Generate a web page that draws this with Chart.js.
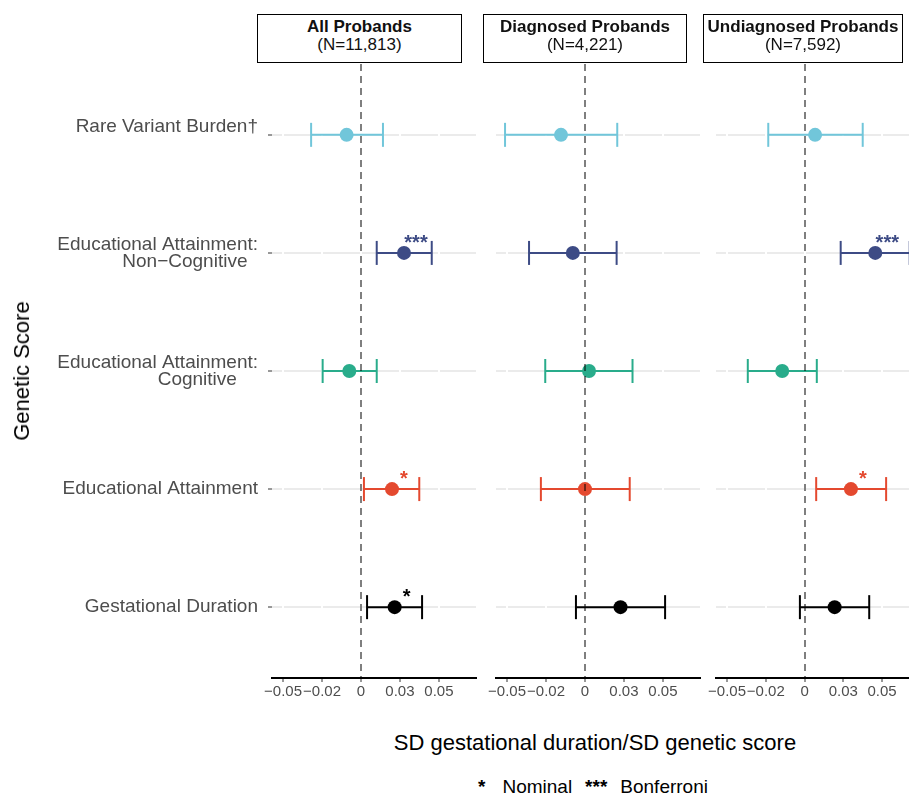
<!DOCTYPE html>
<html>
<head>
<meta charset="utf-8">
<script src="https://cdn.jsdelivr.net/npm/chart.js@4.4.0/dist/chart.umd.min.js"></script>
<style>
  html, body { margin: 0; padding: 0; background: #fff; overflow: hidden; }
  body { width: 909px; height: 795px; position: relative; font-family: "Liberation Sans", Arial, sans-serif; }
  canvas { position: absolute; top: 0; }
  .strip { position: absolute; top: 14px; height: 49px; box-sizing: border-box; border: 1.5px solid #000; background: #fff;
           text-align: center; font-size: 17px; line-height: 18px; padding-top: 3px; color: #111; white-space: nowrap; }
  .strip b { display: block; }
  .ytitle { position: absolute; left: 22px; top: 371px; transform: translate(-50%, -50%) rotate(-90deg); font-size: 22px; white-space: nowrap; }
  .xtitle { position: absolute; left: 595px; top: 743px; transform: translate(-50%, -50%); font-size: 22px; white-space: nowrap; }
  .legend { position: absolute; left: 478px; top: 787px; transform: translateY(-50%); font-size: 19px; white-space: nowrap; }
  .legend .g { margin-left: 13px; }
  .legend .k { margin-left: 17px; }
</style>
</head>
<body>
<canvas id="pAll" width="480" height="720" style="left:0px"></canvas>
<canvas id="pDiag" width="224" height="720" style="left:480px"></canvas>
<canvas id="pUndiag" width="225" height="720" style="left:700px"></canvas>

<div class="strip" style="left:257px;width:205px"><b id="t0"></b><span id="n0"></span></div>
<div class="strip" style="left:483px;width:204px"><b id="t1"></b><span id="n1"></span></div>
<div class="strip" style="left:703px;width:200px"><b id="t2"></b><span id="n2"></span></div>

<div class="ytitle">Genetic Score</div>
<div class="xtitle">SD gestational duration/SD genetic score</div>
<div class="legend"><b>*</b><span class="k">Nominal</span><b class="g">***</b><span class="g">Bonferroni</span></div>

<script>
// rows, top to bottom
const categories = [
  ['Rare Variant Burden\u2020', ''],
  ['Educational Attainment:', 'Non\u2212Cognitive\u00a0\u00a0'],
  ['Educational Attainment:', 'Cognitive\u00a0\u00a0\u00a0\u00a0'],
  'Educational Attainment',
  'Gestational Duration'
];
const rowColors = ['#71C6DA', '#3D4B85', '#29AC8B', '#E4492F', '#000000'];

const panelTitles = ['All Probands', 'Diagnosed Probands', 'Undiagnosed Probands'];
const panelN = ['(N=11,813)', '(N=4,221)', '(N=7,592)'];

const xTickValues = [-0.05, -0.025, 0, 0.025, 0.05];
const xTickLabels = ['\u22120.05', '\u22120.02', '0', '0.03', '0.05'];

// estimates and 95% CI
const allEst = [-0.0092, 0.0276, -0.0075, 0.0199, 0.0216];
const allLo  = [-0.0320, 0.0101, -0.0246, 0.0019, 0.0039];
const allHi  = [ 0.0141, 0.0454,  0.0101, 0.0374, 0.0392];
const allSig = ['', '***', '', '*', '*'];

const diagEst = [-0.0154, -0.0078, 0.0026, 0.0000, 0.0228];
const diagLo  = [-0.0513, -0.0359, -0.0255, -0.0283, -0.0058];
const diagHi  = [ 0.0207,  0.0203,  0.0305,  0.0287,  0.0514];
const diagSig = ['', '', '', '', ''];

const undiagEst = [0.0068, 0.0456, -0.0144, 0.0299, 0.0194];
const undiagLo  = [-0.0234, 0.0233, -0.0366, 0.0075, -0.0030];
const undiagHi  = [ 0.0375, 0.0678,  0.0079, 0.0526,  0.0417];
const undiagSig = ['', '***', '', '*', ''];

for (let i = 0; i < 3; i++) {
  document.getElementById('t' + i).textContent = panelTitles[i];
  document.getElementById('n' + i).textContent = panelN[i];
}

Chart.defaults.font.family = '"Liberation Sans", Arial, sans-serif';

function makePanel(id, est, lo, hi, sig, showY, padLeft, padRight) {
  const datasets = [];
  categories.forEach((c, i) => {
    datasets.push({
      data: [{ x: lo[i], y: i + 1 }, { x: hi[i], y: i + 1 }],
      borderColor: rowColors[i],
      borderWidth: 2,
      pointStyle: 'line',
      pointRotation: 90,
      pointRadius: 12,
      pointBorderWidth: 2,
      pointBorderColor: rowColors[i],
      order: 2
    });
  });
  datasets.push({
    data: est.map((v, i) => ({ x: v, y: i + 1 })),
    showLine: false,
    pointRadius: 7,
    pointBorderWidth: 0,
    pointBackgroundColor: rowColors,
    order: 1
  });

  new Chart(document.getElementById(id), {
    type: 'line',
    data: { datasets: datasets },
    options: {
      responsive: false,
      animation: false,
      events: [],
      layout: { autoPadding: false, padding: { top: 64, left: padLeft, right: padRight, bottom: 0 } },
      plugins: { legend: { display: false }, tooltip: { enabled: false } },
      scales: {
        y: {
          type: 'linear',
          min: 0.4,
          max: 5.6,
          reverse: true,
          afterBuildTicks: function (s) { s.ticks = categories.map((c, i) => ({ value: i + 1 })); },
          afterFit: function (s) { s.width = showY ? 272 : 0; s.paddingTop = 0; s.paddingBottom = 0; },
          ticks: {
            display: showY,
            autoSkip: false,
            color: '#4D4D4D',
            padding: 10,
            font: { size: 19, lineHeight: 0.9 },
            callback: function (v, i) { return categories[i]; }
          },
          grid: { color: '#EBEBEB', lineWidth: 2, drawTicks: showY, tickLength: 4, tickColor: '#333', tickWidth: 1, z: -2 },
          border: { display: false }
        },
        x: {
          type: 'linear',
          min: -0.0571,
          max: 0.0738,
          afterBuildTicks: function (s) { s.ticks = xTickValues.map(v => ({ value: v })); },
          afterFit: function (s) { s.height = 720 - 678; s.paddingLeft = 0; s.paddingRight = 0; },
          ticks: {
            autoSkip: false,
            maxRotation: 0,
            color: '#4D4D4D',
            padding: 1,
            font: { size: 15 },
            callback: function (v, i) { return xTickLabels[i]; }
          },
          grid: { color: '#FFFFFF', lineWidth: 2, tickLength: 4, tickColor: '#333', tickWidth: 1, z: -1 },
          border: { display: true, color: '#000', width: 2 }
        }
      }
    },
    plugins: [{
      id: 'zeroAndStars',
      afterDatasetsDraw: function (chart) {
        const ctx = chart.ctx, a = chart.chartArea;
        const x = chart.scales.x, y = chart.scales.y;
        ctx.save();
        ctx.strokeStyle = 'rgba(0,0,0,0.5)';
        ctx.lineWidth = 2;
        ctx.setLineDash([7, 5]);
        const x0 = Math.round(x.getPixelForValue(0));
        ctx.beginPath();
        ctx.moveTo(x0, a.top);
        ctx.lineTo(x0, a.bottom);
        ctx.stroke();
        ctx.setLineDash([]);
        ctx.font = 'bold 20px "Liberation Sans", Arial, sans-serif';
        ctx.textAlign = 'center';
        ctx.textBaseline = 'alphabetic';
        sig.forEach((s, i) => {
          if (!s) return;
          ctx.fillStyle = rowColors[i];
          ctx.fillText(s, x.getPixelForValue(est[i]) + 12, y.getPixelForValue(i + 1) - 4);
        });
        ctx.restore();
      }
    }]
  });
}

makePanel('pAll', allEst, allLo, allHi, allSig, true, 0, 4);
makePanel('pDiag', diagEst, diagLo, diagHi, diagSig, false, 16, 4);
makePanel('pUndiag', undiagEst, undiagLo, undiagHi, undiagSig, false, 16, 6);
</script>
</body>
</html>
